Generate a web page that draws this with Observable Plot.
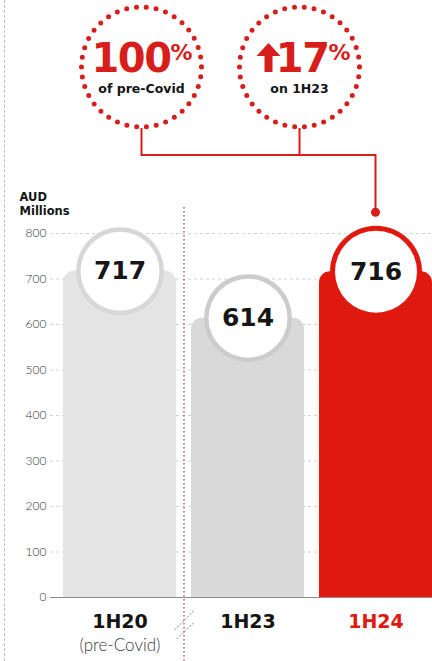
<!DOCTYPE html>
<html><head><meta charset="utf-8">
<script src="https://cdn.jsdelivr.net/npm/d3@7"></script>
<script src="https://cdn.jsdelivr.net/npm/@observablehq/plot@0.6"></script>
<style>
html,body{margin:0;padding:0;background:#fff;}
#wrap{position:relative;width:432px;height:661px;overflow:hidden;}
#border{position:absolute;left:4px;top:0;bottom:0;border-left:1.5px dashed #bdbdbd;}
svg{display:block;}
</style></head><body>
<div id="wrap"><div id="border"></div></div>
<script>
const categories = ["1H20", "1H23", "1H24"];
const values = [717, 614, 716];
const subLabels = ["(pre-Covid)", "", ""];
const yTicks = [0, 100, 200, 300, 400, 500, 600, 700, 800];
const barColors = ["#e4e4e4", "#d9d9d9", "#e0190f"];
const ringColors = ["#d7d7d7", "#cccccc", "#e0190f"];
const labelColors = ["#141414", "#141414", "#e0190f"];
const calloutBig = ["100", "17"];
const calloutSub = ["of pre-Covid", "on 1H23"];
const unitLines = ["AUD", "Millions"];

const BOLD = "'DejaVu Sans', 'Open Sans', sans-serif";
const LIGHT = "Lato, 'Open Sans', sans-serif";
const RED = "#d81e1a";

const data = categories.map((c, i) => ({
  cat: c, value: values[i], sub: subLabels[i],
  bar: barColors[i], ring: ringColors[i], label: labelColors[i], hi: i === 2
}));

const plot = Plot.plot({
  width: 432, height: 661,
  marginTop: 233, marginBottom: 64, marginLeft: 50, marginRight: 0,
  style: {fontFamily: BOLD, overflow: "visible", background: "transparent"},
  x: {domain: categories, range: [55, 440], paddingInner: 0.12, paddingOuter: 0.06, axis: null},
  y: {domain: [0, 800], axis: null},
  marks: [
    Plot.ruleY(yTicks.filter(d => d > 0), {stroke: "#d2d2d2", strokeDasharray: "3,3", strokeWidth: 1}),
    Plot.axisY({ticks: yTicks, tickSize: 0, tickPadding: 4, fontSize: 12, fill: "#333", label: null, fontFamily: LIGHT, fontWeight: 300}),
    Plot.ruleX(["1H20"], {dx: 64, y1: 857, y2: -150, stroke: "#a33b3b", strokeDasharray: "1.5,2.5", strokeWidth: 1.2}),
    Plot.barY(data, {x: "cat", y: "value", fill: "bar", rx: 11}),
    Plot.barY(data, {x: "cat", y: d => d.value / 2, fill: "bar"}),
    Plot.dot(data.filter(d => !d.hi), {x: "cat", y: "value", r: 44, fill: "ring"}),
    Plot.dot(data.filter(d => d.hi), {x: "cat", y: "value", r: 46, fill: "ring"}),
    Plot.dot(data.filter(d => !d.hi), {x: "cat", y: "value", r: 39.5, fill: "white"}),
    Plot.dot(data.filter(d => d.hi), {x: "cat", y: "value", r: 41, fill: "white"}),
    Plot.ruleY([0], {stroke: "#8a8a8a", strokeWidth: 1.2}),
    Plot.text(data, {x: "cat", y: "value", text: d => String(d.value), fontSize: 25, fontWeight: "bold", fill: "#161616", letterSpacing: -1.5}),
    Plot.text(data, {x: "cat", text: "cat", frameAnchor: "bottom", dy: 30, fontSize: 19, fontWeight: "bold", fill: "label", letterSpacing: -0.5}),
    Plot.text(data, {x: "cat", text: "sub", frameAnchor: "bottom", dy: 53, fontSize: 17, fontWeight: 300, fontFamily: LIGHT, fill: "#3a3a3a"}),
    Plot.text([unitLines[0]], {frameAnchor: "top-left", text: d => d, dx: -31, dy: -41, textAnchor: "start", fontSize: 11.5, fontWeight: "bold", fill: "#141414"}),
    Plot.text([unitLines[1]], {frameAnchor: "top-left", text: d => d, dx: -31, dy: -27, textAnchor: "start", fontSize: 11.5, fontWeight: "bold", fill: "#141414"})
  ]
});

document.getElementById("wrap").appendChild(plot);

// Annotation layer positioned from the plot's scales
const xs = plot.scale("x"), ys = plot.scale("y");
const cx = c => xs.apply(c) + xs.bandwidth / 2;
const svg = d3.select(plot);
const g = svg.append("g");
const top800 = ys.apply(800);
const ccy = top800 - 166;           // callout circle centre
const joinY = top800 - 78;          // horizontal connector
const c1x = cx(categories[0]) + 22, c2x = cx(categories[1]) + 52, c3x = cx(categories[2]);
const dotY = ys.apply(values[2]) - 59;

g.append("path")
  .attr("d", `M${c1x},${ccy + 61}V${joinY}H${c3x}V${dotY}M${c2x},${ccy + 61}V${joinY}`)
  .attr("fill", "none").attr("stroke", RED).attr("stroke-width", 2);
g.append("circle").attr("cx", c3x).attr("cy", dotY).attr("r", 4.5).attr("fill", RED);

[c1x, c2x].forEach((x, i) => {
  g.append("circle").attr("cx", x).attr("cy", ccy).attr("r", 60)
    .attr("fill", "white").attr("stroke", RED).attr("stroke-width", 5)
    .attr("stroke-dasharray", "0 9.9").attr("stroke-linecap", "round");
  g.append("text").attr("x", x + 29).attr("y", ccy + 5).attr("text-anchor", "end")
    .attr("font-family", BOLD).attr("font-weight", "bold").attr("font-size", 40).attr("fill", RED)
    .attr("letter-spacing", -1.5).text(calloutBig[i]);
  g.append("text").attr("x", x + 29).attr("y", ccy - 7).attr("text-anchor", "start")
    .attr("font-family", BOLD).attr("font-weight", "bold").attr("font-size", 22).attr("fill", RED).text("%");
  g.append("text").attr("x", x).attr("y", ccy + 26).attr("text-anchor", "middle")
    .attr("font-family", BOLD).attr("font-weight", "bold").attr("font-size", 12.5).attr("fill", "#141414").text(calloutSub[i]);
});
// up arrow for the second callout
{
  const ax = c2x - 31, t = ccy - 24, b = ccy + 5;
  g.append("path")
    .attr("d", `M${ax},${t}L${ax + 12},${t + 13}L${ax + 4},${t + 13}L${ax + 4},${b}L${ax - 4},${b}L${ax - 4},${t + 13}L${ax - 12},${t + 13}Z`)
    .attr("fill", RED);
}
// axis break marks
{
  const bx = cx(categories[0]) + 64, by = ys.apply(0);
  [[bx + 10, by + 14, bx - 9, by + 33], [bx + 10, by + 26, bx - 8, by + 43]].forEach(([x1, y1, x2, y2]) => {
    g.append("line").attr("x1", x1).attr("y1", y1).attr("x2", x2).attr("y2", y2)
      .attr("stroke", "#b0b0b0").attr("stroke-width", 1.2).attr("stroke-dasharray", "2,1.5");
  });
}
</script>
</body></html>
